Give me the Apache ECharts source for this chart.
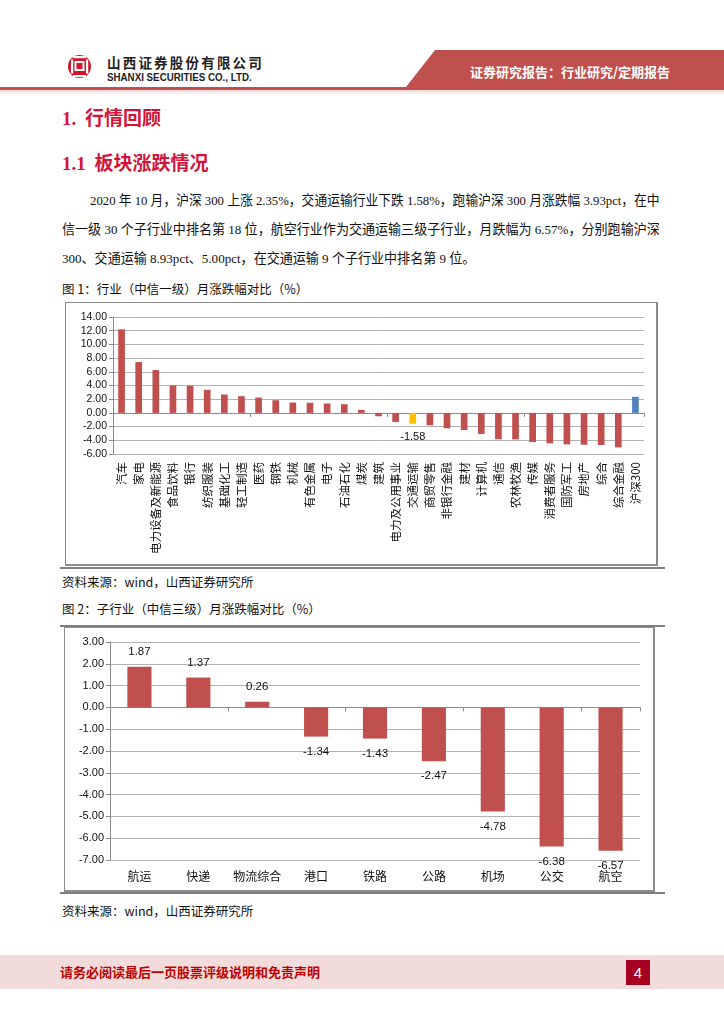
<!DOCTYPE html>
<html><head><meta charset="utf-8">
<script src="https://cdn.jsdelivr.net/npm/echarts@6/dist/echarts.min.js"></script>
<style>
html,body{margin:0;padding:0;background:#fff}
body{width:724px;height:1024px;position:relative;overflow:hidden;font-family:"Noto Sans CJK SC","Noto Sans",sans-serif;color:#111}
.a{position:absolute;white-space:nowrap}
.para{position:absolute;left:62px;width:598px;white-space:nowrap;font-family:"Liberation Serif","Noto Sans CJK SC",serif;font-size:13.5px;line-height:16px;color:#111}
.para span{display:inline-block;transform-origin:0 0}
.cap{position:absolute;left:62px;font-size:12.5px;line-height:14px;color:#111;white-space:nowrap}
.h{position:absolute;left:62px;color:#D2143A;font-weight:bold;font-size:19px;line-height:20px;white-space:nowrap}
.h .n{font-family:"Liberation Serif",serif;font-weight:bold}
</style></head><body>

<!-- header -->
<svg class="a" style="left:66px;top:53px" width="28" height="28" viewBox="0 0 28 28">
  <circle cx="13.5" cy="13.5" r="11.5" fill="#D2142C"/>
  <rect x="7" y="3" width="13" height="2.2" fill="#fff"/>
  <rect x="5" y="6.5" width="2.2" height="14" fill="#fff"/>
  <rect x="20" y="6.5" width="2.2" height="14" fill="#fff"/>
  <rect x="9.5" y="9" width="8" height="8" fill="none" stroke="#fff" stroke-width="2"/>
  <rect x="7" y="22" width="13" height="2.2" fill="#fff"/>
</svg>
<div class="a" style="left:107px;top:54px;font-size:13.5px;font-weight:bold;letter-spacing:2.2px;color:#222;line-height:17px">山西证券股份有限公司</div>
<div class="a" style="left:107px;top:71px;font-family:'Liberation Sans',Arial,sans-serif;font-size:10.5px;font-weight:bold;color:#222;line-height:12px;transform:scaleX(0.93);transform-origin:0 0">SHANXI SECURITIES CO., LTD.</div>
<div class="a" style="left:406px;top:50px;width:318px;height:37px;background:#C0504D;clip-path:polygon(29px 0,100% 0,100% 100%,0 100%)"></div>
<div class="a" style="left:470px;top:64px;font-size:13px;font-weight:bold;color:#fff;line-height:16px">证券研究报告：行业研究/定期报告</div>
<div class="a" style="left:0;top:87px;width:724px;height:3px;background:#C0504D"></div>
<div class="a" style="left:0;top:90px;width:724px;height:5px;background:linear-gradient(#F0D6D6,#fff)"></div>

<!-- headings -->
<div class="h" style="top:107px"><span class="n">1.</span>&nbsp; 行情回顾</div>
<div class="h" style="top:152px"><span class="n">1.1</span>&nbsp; 板块涨跌情况</div>

<div class="para" id="p1" style="top:193px;left:90px;width:570px"><span>2020 年 10 月，沪深 300 上涨 2.35%，交通运输行业下跌 1.58%，跑输沪深 300 月涨跌幅 3.93pct，在中</span></div>
<div class="para" id="p2" style="top:222px"><span>信一级 30 个子行业中排名第 18 位，航空行业作为交通运输三级子行业，月跌幅为 6.57%，分别跑输沪深</span></div>
<div class="para" id="p3" style="top:251px"><span>300、交通运输 8.93pct、5.00pct，在交通运输 9 个子行业中排名第 9 位。</span></div>

<div class="cap" style="top:282px">图 1：行业（中信一级）月涨跌幅对比（%）</div>

<div id="c1" class="a" style="left:65px;top:302px;width:590px;height:261px;border:1px solid #8c8c8c;border-right-width:2px;border-bottom-width:2px"></div>
<div class="a" style="left:60px;top:567px;width:605px;height:2px;background:#7f7f7f"></div>
<div class="cap" style="top:575px">资料来源：wind，山西证券研究所</div>
<div class="cap" style="top:602px">图 2：子行业（中信三级）月涨跌幅对比（%）</div>
<div class="a" style="left:60px;top:625px;width:605px;height:2px;background:#7f7f7f"></div>
<div id="c2" class="a" style="left:64px;top:627px;width:588px;height:262px;border:1px solid #8c8c8c;border-right-width:2px;border-bottom-width:2px"></div>
<div class="a" style="left:60px;top:892px;width:605px;height:2px;background:#7f7f7f"></div>
<div class="cap" style="top:904px">资料来源：wind，山西证券研究所</div>

<!-- footer -->
<div class="a" style="left:0;top:955px;width:724px;height:34px;background:#F2DCDB"></div>
<div class="a" style="left:60px;top:964px;font-size:13px;font-weight:bold;color:#C00000;line-height:16px">请务必阅读最后一页股票评级说明和免责声明</div>
<div class="a" style="left:626px;top:960px;width:24px;height:25px;background:#A50021;color:#fff;font-family:'Liberation Sans',Arial,sans-serif;font-size:15px;line-height:25px;text-align:center">4</div>

<script>
// fit paragraph lines horizontally (justified full lines)
(function () {
  function fit(id, target) {
    var s = document.querySelector('#' + id + ' span');
    var k = target / s.offsetWidth;
    s.style.transform = 'scaleX(' + k + ')';
    return k;
  }
  fit('p1', 570);
  var k = fit('p2', 598);
  document.querySelector('#p3 span').style.transform = 'scaleX(' + k + ')';
})();

// ---------- data ----------
var cats1 = ['汽车','家电','电力设备及新能源','食品饮料','银行','纺织服装','基础化工','轻工制造','医药','钢铁','机械','有色金属','电子','石油石化','煤炭','建筑','电力及公用事业','交通运输','商贸零售','非银行金融','建材','计算机','通信','农林牧渔','传媒','消费者服务','国防军工','房地产','综合','综合金融','沪深300'];
var vals1 = [12.2, 7.42, 6.25, 4.0, 3.98, 3.37, 2.68, 2.44, 2.24, 1.85, 1.51, 1.48, 1.37, 1.27, 0.44, -0.49, -1.32, -1.58, -1.8, -2.25, -2.49, -3.07, -3.85, -3.87, -4.25, -4.44, -4.59, -4.64, -4.69, -5.03, 2.35];
var highlight1 = '交通运输';
var benchmark1 = '沪深300';

var cats2 = ['航运','快递','物流综合','港口','铁路','公路','机场','公交','航空'];
var vals2 = [1.87, 1.37, 0.26, -1.34, -1.43, -2.47, -4.78, -6.38, -6.57];

var RED = '#C0504D', YEL = '#FFC000', BLUE = '#4F81BD';
var NUMFONT = '"Liberation Sans", Arial, sans-serif';

// ---------- chart 1 ----------
var c1 = echarts.init(document.getElementById('c1'), null, {renderer: 'canvas'});
var data1 = vals1.map(function (v, i) {
  var c = cats1[i];
  var item = {value: v, itemStyle: {color: c === highlight1 ? YEL : (c === benchmark1 ? BLUE : RED)}};
  if (c === highlight1) {
    item.label = {show: true, position: 'bottom', distance: 8, formatter: function (p) { return p.value.toFixed(2); },
      fontFamily: NUMFONT, fontSize: 11, color: '#111'};
  }
  return item;
});
c1.setOption({
  animation: false,
  grid: {left: 47, top: 14, width: 531, height: 137},
  xAxis: [{
    type: 'category', data: cats1, position: 'bottom',
    axisLine: {show: true, onZero: true, lineStyle: {color: '#8c8c8c', width: 1}},
    axisTick: {show: true, length: 4, lineStyle: {color: '#8c8c8c'}},
    axisLabel: {show: false}, splitLine: {show: false}
  }, {
    type: 'category', data: cats1, position: 'bottom',
    axisLine: {show: false, onZero: false}, axisTick: {show: false},
    axisLabel: {show: true, rotate: 90, interval: 0, margin: 8, fontSize: 11.5, color: '#111',
      fontFamily: '"Noto Sans CJK SC", sans-serif'}
  }],
  yAxis: {
    type: 'value', min: -6, max: 14, interval: 2,
    axisLine: {show: true, lineStyle: {color: '#8c8c8c'}},
    axisTick: {show: true, length: 4, lineStyle: {color: '#8c8c8c'}},
    axisLabel: {formatter: function (v) { return v.toFixed(2); }, fontFamily: NUMFONT, fontSize: 10.5, color: '#111', margin: 6},
    splitLine: {show: true, lineStyle: {color: '#b3b3b3', width: 1}}
  },
  series: [{type: 'bar', xAxisIndex: 0, data: data1, barWidth: '39%'}]
});

// ---------- chart 2 ----------
var c2 = echarts.init(document.getElementById('c2'), null, {renderer: 'canvas'});
c2.setOption({
  animation: false,
  grid: {left: 45, top: 14, width: 530, height: 218},
  xAxis: [{
    type: 'category', data: cats2,
    axisLine: {show: true, onZero: true, lineStyle: {color: '#8c8c8c'}},
    axisTick: {show: true, length: 4, lineStyle: {color: '#8c8c8c'}},
    axisLabel: {show: false}
  }, {
    type: 'category', data: cats2, position: 'bottom',
    axisLine: {show: false, onZero: false}, axisTick: {show: false},
    axisLabel: {show: true, interval: 0, margin: 10, fontSize: 12, color: '#111', fontFamily: '"Noto Sans CJK SC", sans-serif'}
  }],
  yAxis: {
    type: 'value', min: -7, max: 3, interval: 1,
    axisLine: {show: true, lineStyle: {color: '#8c8c8c'}},
    axisTick: {show: true, length: 4, lineStyle: {color: '#8c8c8c'}},
    axisLabel: {formatter: function (v) { return v.toFixed(2); }, fontFamily: NUMFONT, fontSize: 11, color: '#111', margin: 6},
    splitLine: {show: true, lineStyle: {color: '#b3b3b3'}}
  },
  series: [{
    type: 'bar', xAxisIndex: 0, barWidth: '41%',
    itemStyle: {color: RED},
    data: vals2.map(function (v) {
      return {value: v, label: {position: v >= 0 ? 'top' : 'bottom'}};
    }),
    label: {show: true, distance: 9, fontFamily: NUMFONT, fontSize: 11.5, color: '#111',
      formatter: function (p) { return p.value.toFixed(2); }}
  }]
});
</script>
</body></html>
